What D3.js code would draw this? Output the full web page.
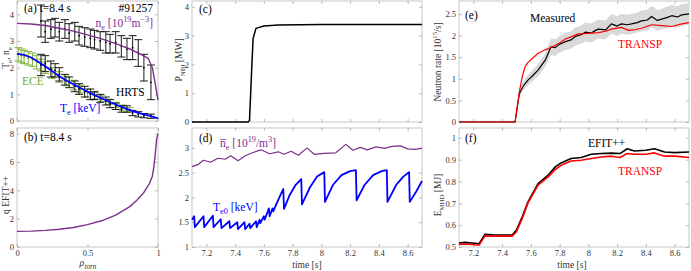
<!DOCTYPE html>
<html>
<head>
<meta charset="utf-8">
<script src="https://cdn.jsdelivr.net/npm/d3@7"></script>
<style>
body { margin: 0; background: #fff; }
svg text { font-family: "Liberation Serif", serif; }
</style>
</head>
<body>
<script>
/* Panel (a): profiles at t=8.4 s */
const rhoNe = [0, 0.1, 0.2, 0.3, 0.4, 0.5, 0.6, 0.7, 0.8, 0.88, 0.93, 0.96, 0.98, 1.0]
const neFit = [3.66, 3.64, 3.58, 3.48, 3.37, 3.23, 3.08, 2.9, 2.7, 2.5, 2.35, 2.0, 1.4, 0.78]
const rhoTe = [0, 0.05, 0.1, 0.15, 0.2, 0.25, 0.3, 0.35, 0.4, 0.45, 0.5, 0.55, 0.6, 0.65, 0.7, 0.75, 0.8, 0.85, 0.9, 0.95, 1.0]
const teFit = [2.52, 2.48, 2.38, 2.22, 2.05, 1.87, 1.68, 1.52, 1.38, 1.24, 1.1, 0.97, 0.85, 0.73, 0.62, 0.51, 0.41, 0.32, 0.25, 0.18, 0.1]
const hrtsRho = [0.17, 0.2, 0.24, 0.27, 0.3, 0.34, 0.37, 0.41, 0.44, 0.48, 0.52, 0.55, 0.59, 0.63, 0.66, 0.7, 0.74, 0.78, 0.82, 0.86, 0.9, 0.95]
const hrtsNe = [3.75, 3.35, 3.45, 3.5, 3.35, 3.45, 3.3, 3.35, 3.2, 3.15, 3.1, 3.05, 3.0, 2.95, 2.9, 2.95, 2.8, 2.7, 2.75, 2.55, 2.0, 1.45]
const hrtsNeErr = [0.6, 0.4, 0.35, 0.35, 0.35, 0.35, 0.35, 0.35, 0.35, 0.35, 0.35, 0.35, 0.35, 0.4, 0.35, 0.4, 0.4, 0.4, 0.45, 0.5, 0.5, 0.65]
const hrtsTe = [2.1, 2.15, 1.95, 1.9, 1.75, 1.55, 1.45, 1.3, 1.2, 1.1, 1.0, 0.95, 0.85, 0.75, 0.65, 0.55, 0.45, 0.45, 0.3, 0.25, 0.2, 0.18]
const hrtsTeErr = [0.4, 0.3, 0.3, 0.25, 0.25, 0.2, 0.2, 0.2, 0.2, 0.2, 0.2, 0.15, 0.15, 0.15, 0.15, 0.12, 0.12, 0.12, 0.1, 0.1, 0.08, 0.08]
const eceRho = [0.01, 0.03, 0.05, 0.08, 0.11, 0.14, 0.17, 0.2, 0.25, 0.3, 0.35, 0.4, 0.45, 0.5, 0.55, 0.6, 0.65, 0.7, 0.75, 0.8]
const eceTe = [2.5, 2.45, 2.4, 2.35, 2.3, 2.2, 2.1, 2.0, 1.8, 1.65, 1.5, 1.35, 1.2, 1.05, 0.95, 0.85, 0.72, 0.6, 0.5, 0.42]
const eceErr = [0.25, 0.25, 0.25, 0.25, 0.25, 0.25, 0.22, 0.22, 0.2, 0.2, 0.18, 0.18, 0.15, 0.15, 0.12, 0.12, 0.1, 0.1, 0.1, 0.08]

/* Panel (b): q profile */
const rhoQ = [0, 0.1, 0.2, 0.3, 0.4, 0.5, 0.6, 0.7, 0.8, 0.85, 0.9, 0.94, 0.96, 0.97, 0.98, 0.99, 1.0]
const qProfile = [1.1, 1.12, 1.17, 1.25, 1.38, 1.58, 1.85, 2.25, 2.85, 3.3, 3.85, 4.5, 5.0, 5.6, 6.5, 7.6, 8.0]

/* Panel (c): NBI power */
const nbiTime = [7.1, 7.49, 7.5, 7.515, 7.525, 7.545, 7.6, 7.7, 8.0, 8.7]
const nbiPower = [0, 0, 0.05, 1.8, 2.9, 3.25, 3.33, 3.37, 3.38, 3.38]

/* Panel (d): line-averaged density and core Te */
const neBarTime = [7.1, 7.14, 7.18, 7.23, 7.28, 7.33, 7.37, 7.42, 7.47, 7.52, 7.58, 7.64, 7.7, 7.74, 7.79, 7.84, 7.9, 7.95, 8.02, 8.1, 8.17, 8.22, 8.27, 8.32, 8.38, 8.44, 8.49, 8.55, 8.6, 8.65, 8.7]
const neBar = [2.62, 2.66, 2.75, 2.71, 2.79, 2.77, 2.84, 2.74, 2.84, 2.9, 2.96, 2.88, 2.92, 2.87, 2.93, 2.85, 3.0, 2.87, 2.89, 2.9, 3.07, 2.95, 3.01, 2.96, 3.02, 2.99, 3.03, 3.04, 2.98, 2.97, 2.99]
const te0Time = [7.1, 7.115, 7.12, 7.18, 7.185, 7.245, 7.25, 7.3, 7.305, 7.36, 7.365, 7.415, 7.42, 7.465, 7.47, 7.5, 7.505, 7.545, 7.55, 7.57, 7.575, 7.6, 7.605, 7.635, 7.64, 7.66, 7.665, 7.7, 7.735, 7.74, 7.78, 7.82, 7.86, 7.865, 7.92, 7.97, 8.02, 8.025, 8.08, 8.14, 8.2, 8.24, 8.245, 8.3, 8.36, 8.42, 8.455, 8.46, 8.52, 8.57, 8.61, 8.615, 8.66, 8.7]
const te0 = [1.55, 1.62, 1.4, 1.62, 1.4, 1.63, 1.4, 1.56, 1.38, 1.52, 1.38, 1.5, 1.36, 1.5, 1.36, 1.47, 1.38, 1.52, 1.4, 1.55, 1.48, 1.62, 1.55, 1.78, 1.62, 1.78, 1.72, 1.95, 2.17, 1.77, 2.05, 2.25, 2.37, 1.86, 2.2, 2.42, 2.51, 1.91, 2.25, 2.45, 2.53, 2.55, 1.94, 2.25, 2.45, 2.53, 2.55, 1.91, 2.25, 2.42, 2.51, 1.91, 2.12, 2.33]

/* Panel (e): neutron rate */
const neutronTime = [7.1, 7.49, 7.52, 7.55, 7.58, 7.62, 7.65, 7.7, 7.74, 7.77, 7.79, 7.84, 7.88, 7.91, 7.95, 7.98, 8.02, 8.05, 8.07, 8.12, 8.16, 8.2, 8.23, 8.27, 8.3, 8.34, 8.37, 8.41, 8.44, 8.48, 8.51, 8.55, 8.58, 8.62, 8.65, 8.7]
const neutronMeas = [0, 0, 0.66, 0.85, 0.97, 1.1, 1.2, 1.43, 1.74, 1.72, 1.78, 1.86, 1.9, 1.98, 2.02, 2.08, 2.06, 2.12, 2.15, 2.13, 2.27, 2.22, 2.27, 2.25, 2.27, 2.3, 2.34, 2.36, 2.44, 2.35, 2.38, 2.42, 2.46, 2.43, 2.48, 2.5]
const neutronErr = [0.03, 0.03, 0.09, 0.11, 0.12, 0.13, 0.14, 0.16, 0.19, 0.19, 0.19, 0.2, 0.2, 0.21, 0.21, 0.22, 0.22, 0.22, 0.22, 0.22, 0.23, 0.23, 0.23, 0.23, 0.23, 0.23, 0.24, 0.24, 0.25, 0.24, 0.24, 0.25, 0.25, 0.25, 0.25, 0.25]
const transpNTime = [7.1, 7.49, 7.52, 7.54, 7.56, 7.58, 7.61, 7.65, 7.7, 7.75, 7.8, 7.84, 7.88, 7.93, 8.0, 8.07, 8.12, 8.16, 8.23, 8.28, 8.33, 8.37, 8.44, 8.51, 8.58, 8.65, 8.7]
const transpN = [0, 0, 0.7, 1.05, 1.28, 1.38, 1.47, 1.59, 1.67, 1.74, 1.83, 1.92, 1.97, 2.04, 2.05, 2.07, 2.1, 2.15, 2.19, 2.12, 2.14, 2.17, 2.25, 2.23, 2.21, 2.27, 2.3]

/* Panel (f): stored energy */
const energyTime = [7.1, 7.14, 7.21, 7.24, 7.28, 7.35, 7.47, 7.5, 7.54, 7.58, 7.65, 7.72, 7.77, 7.81, 7.88, 7.95, 8.02, 8.09, 8.16, 8.22, 8.27, 8.32, 8.4, 8.46, 8.53, 8.6, 8.7]
const energyEfit = [0.518, 0.521, 0.517, 0.515, 0.558, 0.555, 0.555, 0.578, 0.638, 0.707, 0.79, 0.829, 0.867, 0.885, 0.905, 0.91, 0.925, 0.928, 0.93, 0.928, 0.95, 0.94, 0.943, 0.95, 0.935, 0.932, 0.935]
const energyTransp = [0.512, 0.514, 0.51, 0.509, 0.55, 0.55, 0.55, 0.57, 0.631, 0.702, 0.783, 0.821, 0.855, 0.874, 0.894, 0.897, 0.905, 0.912, 0.916, 0.91, 0.928, 0.925, 0.925, 0.931, 0.916, 0.916, 0.91]

/* Tick values */
const rhoTicks = [0, 0.5, 1]
const timeTicks = [7.2, 7.4, 7.6, 7.8, 8, 8.2, 8.4, 8.6]

/* Colours */
const purple = "#7e2f8e"
const blue = "#0000ff"
const green = "#77ac30"
const red = "#ff0000"

/* Create svg-element. */
const svg = d3.select("body")
  .append("svg")
  .attr("width", 691)
  .attr("height", 271)

/* Define text with sub/superscripts. */
function addText(g, x, y, parts, opts) {
  const size = opts.size
  const t = g.append("text")
    .attr("x", x)
    .attr("y", y)
    .attr("font-size", size)
    .attr("fill", opts.color || "#000")
    .attr("text-anchor", opts.anchor || "start")
  if (opts.rotate) t.attr("transform", `rotate(-90,${x},${y})`)
  if (opts.italic) t.attr("font-style", "italic")
  let shift = 0
  parts.forEach(p => {
    const str = Array.isArray(p) ? p[0] : p
    const mode = Array.isArray(p) ? p[1] : null
    const target = mode === "sub" ? 0.3 : mode === "sup" ? -0.4 : 0
    const s = t.append("tspan")
      .attr("dy", (target - shift) * size)
      .text(str)
    shift = target
    if (mode) s.attr("font-size", size * 0.72)
  })
  return t
}

/* Define makePanel. */
function makePanel(o) {
  const x = d3.scaleLinear().domain(o.xDomain).range([o.left, o.right])
  const y = d3.scaleLinear().domain(o.yDomain).range([o.bottom, o.top])
  const g = svg.append("g")

  g.append("rect")
    .attr("x", o.left)
    .attr("y", o.top)
    .attr("width", o.right - o.left)
    .attr("height", o.bottom - o.top)
    .attr("fill", "none")
    .attr("stroke", "#b8b8b8")
    .attr("stroke-width", 0.8)

  const fmt = d => String(+d.toFixed(2))
  const axes = [
    [d3.axisLeft(y).tickValues(o.yTicks).tickFormat(fmt), o.left, 0],
    [d3.axisRight(y).tickValues(o.yTicks).tickFormat(""), o.right, 0],
    [d3.axisBottom(x).tickValues(o.xTicks).tickFormat(o.xLabels ? fmt : ""), 0, o.bottom],
    [d3.axisTop(x).tickValues(o.xTicks).tickFormat(""), 0, o.top]
  ]
  axes.forEach(([gen, tx, ty]) => {
    const a = g.append("g")
      .attr("transform", `translate(${tx},${ty})`)
      .call(gen.tickSizeInner(-3).tickSizeOuter(0).tickPadding(3))
    a.select(".domain").remove()
    a.selectAll("line").attr("stroke", "#aaa").attr("stroke-width", 0.8)
    a.selectAll("text")
      .attr("font-family", "Liberation Serif, serif")
      .attr("font-size", 8.5)
      .attr("fill", "#333")
  })

  return { g, x, y }
}

/* Define drawLine. */
function drawLine(p, xs, ys, color, width) {
  const line = d3.line().x((d, i) => p.x(xs[i])).y(d => p.y(d))
  p.g.append("path")
    .datum(ys)
    .attr("d", line)
    .attr("fill", "none")
    .attr("stroke", color)
    .attr("stroke-width", width)
    .attr("stroke-linejoin", "round")
}

/* Define drawErrorBars. */
function drawErrorBars(p, xs, ys, errs, color, cap) {
  const bars = p.g.append("g").attr("stroke", color).attr("stroke-width", 0.9)
  xs.forEach((xv, i) => {
    const cx = p.x(xv)
    const lo = p.y(ys[i] - errs[i])
    const hi = p.y(ys[i] + errs[i])
    bars.append("line").attr("x1", cx).attr("x2", cx).attr("y1", lo).attr("y2", hi)
    bars.append("line").attr("x1", cx - cap).attr("x2", cx + cap).attr("y1", lo).attr("y2", lo)
    bars.append("line").attr("x1", cx - cap).attr("x2", cx + cap).attr("y1", hi).attr("y2", hi)
    p.g.append("circle").attr("cx", cx).attr("cy", p.y(ys[i])).attr("r", 0.9).attr("fill", color)
  })
}

/* Panel (a) */
const pa = makePanel({ left: 17, right: 158, top: 1, bottom: 121,
  xDomain: [0, 1], yDomain: [0, 4.5], xTicks: rhoTicks, yTicks: [0, 1, 2, 3, 4], xLabels: false })
drawErrorBars(pa, eceRho, eceTe, eceErr, green, 4)
drawErrorBars(pa, hrtsRho, hrtsNe, hrtsNeErr, "#000", 4)
drawErrorBars(pa, hrtsRho, hrtsTe, hrtsTeErr, "#000", 4)
drawLine(pa, rhoNe, neFit, purple, 1.4)
drawLine(pa, rhoTe, teFit, blue, 1.8)
addText(svg, 24, 12, ["(a) t=8.4 s"], { size: 11.5 })
addText(svg, 153, 12, ["#91257"], { size: 11.5, anchor: "end" })
addText(svg, 153, 27, ["n", ["e", "sub"], " [10", ["19", "sup"], "m", ["−3", "sup"], "]"], { size: 11.5, color: purple, anchor: "end" })
addText(svg, 22, 85, ["ECE"], { size: 11.5, color: green })
addText(svg, 116, 96, ["HRTS"], { size: 11.5 })
addText(svg, 60, 112, ["T", ["e", "sub"], " [keV]"], { size: 11.5, color: blue })
addText(svg, 9, 58, ["T", ["e", "sub"], ", n", ["e", "sub"]], { size: 9.5, rotate: true, anchor: "middle", color: "#333" })

/* Panel (b) */
const pb = makePanel({ left: 17, right: 158, top: 128, bottom: 247,
  xDomain: [0, 1], yDomain: [0, 8.4], xTicks: rhoTicks, yTicks: [0, 2, 4, 6, 8], xLabels: true })
drawLine(pb, rhoQ, qProfile, purple, 1.4)
addText(svg, 24, 141, ["(b) t=8.4 s"], { size: 11.5 })
addText(svg, 9, 195, ["q EFIT++"], { size: 9.5, rotate: true, anchor: "middle", color: "#333" })
addText(svg, 88, 266, ["ρ", ["torn", "sub"]], { size: 10, anchor: "middle", italic: true, color: "#333" })

/* Panel (c) */
const pc = makePanel({ left: 192, right: 422, top: 1, bottom: 122,
  xDomain: [7.1, 8.7], yDomain: [0, 4.2], xTicks: timeTicks, yTicks: [0, 1, 2, 3, 4], xLabels: false })
drawLine(pc, nbiTime, nbiPower, "#000", 1.5)
addText(svg, 199, 13, ["(c)"], { size: 11.5 })
addText(svg, 182, 60, ["P", ["NBI", "sub"], " [MW]"], { size: 9.5, rotate: true, anchor: "middle", color: "#333" })

/* Panel (d) */
const pd = makePanel({ left: 192, right: 422, top: 128, bottom: 247,
  xDomain: [7.1, 8.7], yDomain: [1, 3.4], xTicks: timeTicks, yTicks: [1, 1.5, 2, 2.5, 3], xLabels: true })
drawLine(pd, neBarTime, neBar, purple, 1.2)
drawLine(pd, te0Time, te0, blue, 1.8)
addText(svg, 199, 142, ["(d)"], { size: 11.5 })
addText(svg, 220, 147, ["n\u0305", ["e", "sub"], " [10", ["19", "sup"], "/m", ["3", "sup"], "]"], { size: 11.5, color: purple })
addText(svg, 213, 211, ["T", ["e0", "sub"], " [keV]"], { size: 11.5, color: blue })
addText(svg, 307, 267.5, ["time [s]"], { size: 9.5, anchor: "middle", color: "#333" })

/* Panel (e) */
const pe = makePanel({ left: 459, right: 689, top: 1, bottom: 122,
  xDomain: [7.1, 8.7], yDomain: [0, 2.8], xTicks: timeTicks, yTicks: [0, 0.5, 1, 1.5, 2, 2.5], xLabels: false })
const band = d3.area()
  .x((d, i) => pe.x(neutronTime[i]))
  .y0((d, i) => pe.y(Math.max(0, d - neutronErr[i])))
  .y1((d, i) => pe.y(d + neutronErr[i]))
pe.g.append("path")
  .datum(neutronMeas)
  .attr("d", band)
  .attr("fill", "#d9d9d9")
drawLine(pe, neutronTime, neutronMeas, "#000", 1.2)
drawLine(pe, transpNTime, transpN, red, 1.2)
addText(svg, 465, 19, ["(e)"], { size: 11.5 })
addText(svg, 530, 22, ["Measured"], { size: 11.5 })
addText(svg, 618, 48, ["TRANSP"], { size: 11.5, color: red })
addText(svg, 441, 62, ["Neutron rate [10", ["15", "sup"], "/s]"], { size: 9.5, rotate: true, anchor: "middle", color: "#333" })

/* Panel (f) */
const pf = makePanel({ left: 459, right: 689, top: 128, bottom: 247,
  xDomain: [7.1, 8.7], yDomain: [0.5, 1.045], xTicks: timeTicks, yTicks: [0.5, 0.6, 0.7, 0.8, 0.9, 1], xLabels: true })
drawLine(pf, energyTime, energyEfit, "#000", 1.6)
drawLine(pf, energyTime, energyTransp, red, 1.6)
addText(svg, 465, 142, ["(f)"], { size: 11.5 })
addText(svg, 588, 147, ["EFIT++"], { size: 11.5 })
addText(svg, 618, 175, ["TRANSP"], { size: 11.5, color: red })
addText(svg, 441, 195, ["E", ["MHD", "sub"], " [MJ]"], { size: 9.5, rotate: true, anchor: "middle", color: "#333" })
addText(svg, 572, 267.5, ["time [s]"], { size: 9.5, anchor: "middle", color: "#333" })
</script>
</body>
</html>
